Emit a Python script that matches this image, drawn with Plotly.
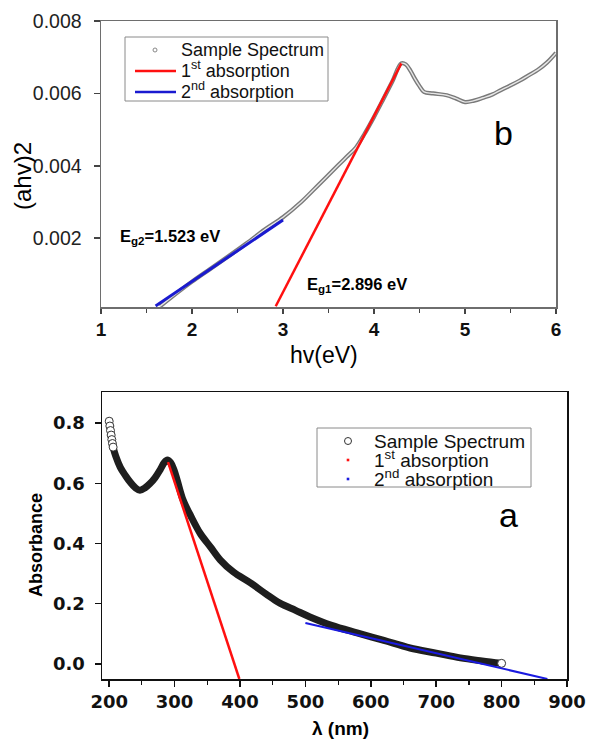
import plotly.graph_objects as go

OFF = 0                      # body margin removed by post_script below
W, H = 589 - OFF, 740 - OFF


def px(x):
    return (x - OFF) / W


def py(y):
    return 1 - (y - OFF) / H


# ---------------- panel b (top): Tauc plot ----------------
hv = [1.65, 1.8, 2.0, 2.2, 2.4, 2.6, 2.8, 3.0, 3.2, 3.4, 3.6, 3.7, 3.8, 3.9, 4.0,
      4.1, 4.2, 4.3, 4.35, 4.4, 4.45, 4.5, 4.55, 4.65, 4.8, 4.9, 5.0, 5.1, 5.2,
      5.3, 5.4, 5.5, 5.6, 5.7, 5.8, 5.9, 6.0]
ahv2 = [0.00012, 0.00042, 0.00080, 0.00115, 0.00150, 0.00186, 0.00224, 0.00258,
        0.00300, 0.00350, 0.00400, 0.00425, 0.00450, 0.00490, 0.00535, 0.00583,
        0.00632, 0.00683, 0.00680, 0.00663, 0.00640, 0.00620, 0.00604, 0.00600,
        0.00595, 0.00586, 0.00576, 0.00580, 0.00588, 0.00597, 0.00610, 0.00622,
        0.00635, 0.00650, 0.00665, 0.00685, 0.00712]
fit1_b_x = [2.92, 4.30]
fit1_b_y = [0.00012, 0.00683]
fit2_b_x = [1.60, 3.00]
fit2_b_y = [0.00013, 0.00250]

# ---------------- panel a (bottom): absorbance ----------------
lam = [200, 201, 202, 203, 204, 205, 206, 210, 217, 225, 232, 240, 247, 255, 262,
       270, 278, 284, 289, 294, 299, 304, 313, 325, 339, 355, 370, 390, 416, 440,
       461, 485, 507, 540, 579, 620, 660, 700, 737, 770, 800]
absb = [0.806, 0.790, 0.775, 0.760, 0.745, 0.732, 0.720, 0.690, 0.653, 0.625,
        0.604, 0.585, 0.577, 0.585, 0.598, 0.618, 0.645, 0.668, 0.677, 0.668,
        0.645, 0.610, 0.544, 0.490, 0.434, 0.388, 0.345, 0.305, 0.269, 0.232,
        0.202, 0.178, 0.156, 0.128, 0.103, 0.078, 0.053, 0.036, 0.020, 0.010, 0.002]
fit1_a_x = [290, 399]
fit1_a_y = [0.670, -0.050]
fit2_a_x = [500, 870]
fit2_a_y = [0.136, -0.050]

legend_labels = ["Sample Spectrum", "1<sup>st</sup> absorption", "2<sup>nd</sup> absorption"]

FONT = "Liberation Sans, Arial, sans-serif"
RED, BLUE_T, BLUE_B = "#ff1010", "#1a1ad0", "#1a1ae0"

fig = go.Figure()

# top spectrum: grey chain of open circles (outer grey + light core)
fig.add_trace(go.Scatter(x=hv, y=ahv2, mode="lines", line=dict(color="#7a7a7a", width=4.2, shape="spline"),
                         xaxis="x", yaxis="y", hoverinfo="skip"))
fig.add_trace(go.Scatter(x=hv, y=ahv2, mode="lines", line=dict(color="#e6e6e6", width=1.4, shape="spline"),
                         xaxis="x", yaxis="y", hoverinfo="skip"))
fig.add_trace(go.Scatter(x=fit1_b_x, y=fit1_b_y, mode="lines", line=dict(color=RED, width=2.5),
                         xaxis="x", yaxis="y"))
fig.add_trace(go.Scatter(x=fit2_b_x, y=fit2_b_y, mode="lines", line=dict(color=BLUE_T, width=3),
                         xaxis="x", yaxis="y"))

# bottom spectrum
fig.add_trace(go.Scatter(x=lam, y=absb, mode="lines", line=dict(color="#1e1e1e", width=7, shape="spline"),
                         xaxis="x2", yaxis="y2", hoverinfo="skip"))
first = [i for i, v in enumerate(lam) if v <= 206] + [len(lam) - 1]
fig.add_trace(go.Scatter(x=[lam[i] for i in first], y=[absb[i] for i in first], mode="markers",
                         marker=dict(symbol="circle", size=8, color="white", line=dict(color="#333", width=1)),
                         xaxis="x2", yaxis="y2", hoverinfo="skip"))
fig.add_trace(go.Scatter(x=fit1_a_x, y=fit1_a_y, mode="lines", line=dict(color=RED, width=2.5),
                         xaxis="x2", yaxis="y2"))
fig.add_trace(go.Scatter(x=fit2_a_x, y=fit2_a_y, mode="lines", line=dict(color=BLUE_B, width=2),
                         xaxis="x2", yaxis="y2"))

axis_common = dict(showline=True, mirror=True, ticks="outside", showgrid=False, zeroline=False,
                   automargin=False)

fig.update_layout(
    template="none",
    width=W, height=H, autosize=False,
    margin=dict(l=0, r=0, t=0, b=0, pad=0),
    paper_bgcolor="white", plot_bgcolor="white",
    font=dict(family=FONT, color="black"),
    showlegend=False,
    xaxis=dict(domain=[px(101), px(556)], range=[1, 6], anchor="y", tick0=1, dtick=1,
               linecolor="#6e6e6e", linewidth=1.5, tickcolor="#444", ticklen=5, tickwidth=1.5,
               minor=dict(ticks="outside", dtick=0.5, ticklen=4, tickcolor="#444", tickwidth=1.2),
               tickfont=dict(family=FONT, size=19, weight="bold", color="#111"), **axis_common),
    yaxis=dict(domain=[py(307), py(21)], range=[0.0001, 0.008], anchor="x",
               tickvals=[0.002, 0.004, 0.006, 0.008], ticktext=["0.002", "0.004", "0.006", "0.008"],
               linecolor="#6e6e6e", linewidth=1.5, tickcolor="#444", ticklen=6, tickwidth=1.5,
               ticklabelstandoff=8,
               tickfont=dict(family=FONT, size=19.5, color="#222"), **axis_common),
    xaxis2=dict(domain=[px(102), px(567)], range=[189, 900], anchor="y2", tick0=200, dtick=100,
                linecolor="#111", linewidth=1.5, tickcolor="#111", ticklen=6, tickwidth=1.5,
                minor=dict(ticks="outside", dtick=50, ticklen=4, tickcolor="#111", tickwidth=1.2),
                tickfont=dict(family="DejaVu Sans", size=18, weight="bold", color="#111"), **axis_common),
    yaxis2=dict(domain=[py(679), py(392)], range=[-0.05, 0.903], anchor="x2",
                tick0=0, dtick=0.2, tickformat=".1f",
                linecolor="#111", linewidth=1.5, tickcolor="#111", ticklen=6, tickwidth=1.5,
                ticklabelstandoff=6,
                tickfont=dict(family="DejaVu Sans", size=18, weight="bold", color="#111"), **axis_common),
)

# ---- legend boxes (drawn in page space) ----
def box(x0, y0, x1, y1):
    fig.add_shape(type="rect", xref="paper", yref="paper", x0=px(x0), x1=px(x1), y0=py(y1), y1=py(y0),
                  line=dict(color="#8a8a8a", width=1), fillcolor="white", layer="above")


def dot(cx, cy, r, color, fill, width=1):
    fig.add_shape(type="circle", xref="paper", yref="paper", x0=px(cx - r), x1=px(cx + r),
                  y0=py(cy + r), y1=py(cy - r), line=dict(color=color, width=width),
                  fillcolor=fill, layer="above")


def seg(x0, x1, y, color, width):
    fig.add_shape(type="line", xref="paper", yref="paper", x0=px(x0), x1=px(x1), y0=py(y), y1=py(y),
                  line=dict(color=color, width=width), layer="above")


def sq(cx, cy, s, color):
    fig.add_shape(type="rect", xref="paper", yref="paper", x0=px(cx - s), x1=px(cx + s),
                  y0=py(cy + s), y1=py(cy - s), line=dict(width=0), fillcolor=color, layer="above")


# top legend
box(125, 37, 328, 101)
ty = [50, 71, 92]
dot(155, ty[0], 2, "#888", "white")
seg(135, 176, ty[1], RED, 2.5)
seg(135, 176, ty[2], BLUE_T, 2.5)
# bottom legend
box(317, 428, 531, 487)
by = [441, 460, 479]
dot(348, by[0], 3.5, "#333", "white")
sq(348, by[1], 1.3, RED)
sq(348, by[2], 1.3, BLUE_B)


def legend_block(labels, size, spacing):
    return "<br>".join(f"<span style='font-size:{size}px'>{lab}</span>" for lab in labels), spacing / 1.3


top_txt, top_fs = legend_block(legend_labels, 18, ty[1] - ty[0])
bot_txt, bot_fs = legend_block(legend_labels, 19, by[1] - by[0])

ann = [
    dict(text="b", x=503, y=133, font=dict(size=34, family=FONT)),
    dict(text="a", x=508, y=515, font=dict(size=34, family=FONT)),
    dict(text="<b>E<sub>g2</sub>=1.523 eV</b>", x=119, y=237, xanchor="left",
         font=dict(size=16.5, family=FONT)),
    dict(text="<b>E<sub>g1</sub>=2.896 eV</b>", x=306, y=285, xanchor="left",
         font=dict(size=16.5, family=FONT)),
    dict(text="(ahv)2", x=22, y=176, textangle=-90, font=dict(size=24, family=FONT)),
    dict(text="hv(eV)", x=324, y=355, font=dict(size=23, family=FONT)),
    dict(text="<b>Absorbance</b>", x=36, y=545, textangle=-90, font=dict(size=18, family=FONT)),
    dict(text="<b>λ (nm)</b>", x=340, y=728, font=dict(size=19, family=FONT)),
    dict(text=top_txt, x=180, y=ty[1], xanchor="left", align="left",
         font=dict(size=top_fs, family=FONT, color="#111")),
    dict(text=bot_txt, x=373, y=by[1], xanchor="left", align="left",
         font=dict(size=bot_fs, family=FONT, color="#111")),
]

for a in ann:
    a.setdefault("xanchor", "center")
    a["x"] = px(a["x"])
    a["y"] = py(a["y"])
    fig.add_annotation(xref="paper", yref="paper", showarrow=False, yanchor="middle", borderpad=0, **a)

fig.write_html("out.html",
               config={"displayModeBar": False, "staticPlot": True},
               post_script="document.body.style.margin='0px';document.body.style.overflow='hidden';")
